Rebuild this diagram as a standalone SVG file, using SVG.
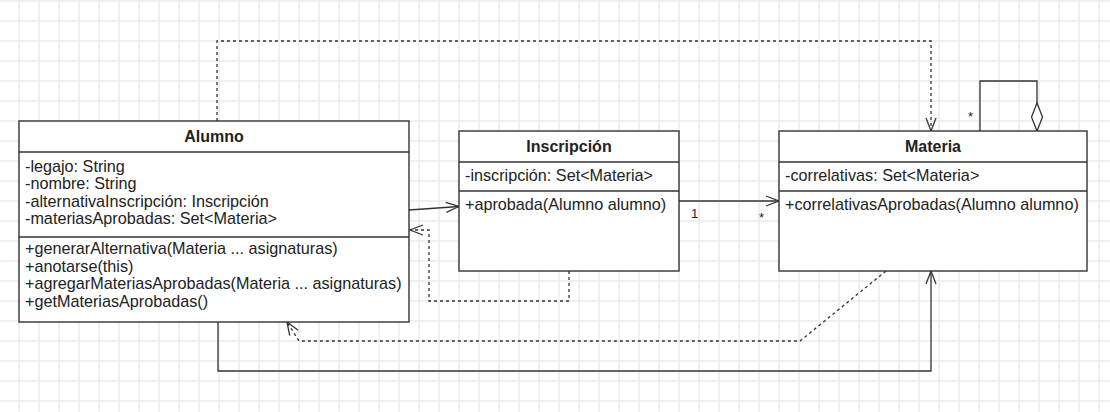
<svg xmlns="http://www.w3.org/2000/svg" width="1110" height="412" viewBox="0 0 1110 412">
<defs>
<pattern id="grid" width="20" height="20" patternUnits="userSpaceOnUse" x="9" y="-9">
<path d="M10,0 V20 M0,10 H20" fill="none" stroke="#ececec" stroke-width="1.5"/>
</pattern>
<marker id="open" markerUnits="userSpaceOnUse" markerWidth="16" markerHeight="14" refX="13" refY="6" orient="auto" overflow="visible">
<path d="M0,1 L13,6 L0,11" fill="none" stroke="#333" stroke-width="1.3"/>
</marker>
<marker id="diamond" markerUnits="userSpaceOnUse" markerWidth="30" markerHeight="14" refX="28" refY="6" orient="auto" overflow="visible">
<path d="M0,6 L14,0.5 L28,6 L14,11.5 Z" fill="#fff" stroke="#333" stroke-width="1.3"/>
</marker>
</defs>
<style>
.box{fill:#fff;stroke:#333;stroke-width:1.4}
.div{stroke:#333;stroke-width:1.4}
.t{font-family:"Liberation Sans",Arial,sans-serif;font-size:16.2px;fill:#222}
.h{font-family:"Liberation Sans",Arial,sans-serif;font-size:16px;font-weight:bold;fill:#222;text-anchor:middle}
.lbl{font-family:"Liberation Sans",Arial,sans-serif;font-size:13px;fill:#222}
.c{fill:none;stroke:#333;stroke-width:1.3}
.d{fill:none;stroke:#333;stroke-width:1.3;stroke-dasharray:3 3}
</style>
<rect width="1110" height="412" fill="#fff"/>
<rect width="1110" height="412" fill="url(#grid)"/>

<g id="connectors">
<path class="c" d="M409,210 L459,206.5" marker-end="url(#open)"/>
<path class="d" d="M569,271 V301 H429 V230 H410" marker-end="url(#open)"/>
<path class="c" d="M679,201 H779" marker-end="url(#open)"/>
<text class="lbl" x="691" y="218">1</text>
<text class="lbl" x="759" y="222">*</text>
<path class="d" d="M217,121 V41 H931 V131" marker-end="url(#open)"/>
<path class="c" d="M218,322 V371 H931 V271" marker-end="url(#open)"/>
<path class="d" d="M886,271 L800,341 H299 L287,322" marker-end="url(#open)"/>
<path class="c" d="M980,131 V81 H1037 V131" marker-end="url(#diamond)"/>
<text class="lbl" x="968" y="121">*</text>
</g>

<g id="alumno">
<rect class="box" x="19" y="121" width="390" height="201"/>
<line class="div" x1="19" y1="152" x2="409" y2="152"/>
<line class="div" x1="19" y1="237" x2="409" y2="237"/>
<text class="h" x="214" y="142">Alumno</text>
<text class="t" x="25" y="171.7">-legajo: String</text>
<text class="t" x="25" y="189.2">-nombre: String</text>
<text class="t" x="25" y="206.7">-alternativaInscripción: Inscripción</text>
<text class="t" x="25" y="224.2">-materiasAprobadas: Set&lt;Materia&gt;</text>
<text class="t" x="25" y="254.3">+generarAlternativa(Materia ... asignaturas)</text>
<text class="t" x="25" y="271.8">+anotarse(this)</text>
<text class="t" x="25" y="289.3">+agregarMateriasAprobadas(Materia ... asignaturas)</text>
<text class="t" x="25" y="306.8">+getMateriasAprobadas()</text>
</g>

<g id="inscripcion">
<rect class="box" x="459" y="131" width="220" height="140"/>
<line class="div" x1="459" y1="162" x2="679" y2="162"/>
<line class="div" x1="459" y1="191" x2="679" y2="191"/>
<text class="h" x="569" y="152">Inscripción</text>
<text class="t" x="465" y="181">-inscripción: Set&lt;Materia&gt;</text>
<text class="t" x="465" y="210">+aprobada(Alumno alumno)</text>
</g>

<g id="materia">
<rect class="box" x="779" y="131" width="308" height="140"/>
<line class="div" x1="779" y1="162" x2="1087" y2="162"/>
<line class="div" x1="779" y1="191" x2="1087" y2="191"/>
<text class="h" x="933" y="152">Materia</text>
<text class="t" x="785" y="181">-correlativas: Set&lt;Materia&gt;</text>
<text class="t" x="785" y="210">+correlativasAprobadas(Alumno alumno)</text>
</g>
</svg>
